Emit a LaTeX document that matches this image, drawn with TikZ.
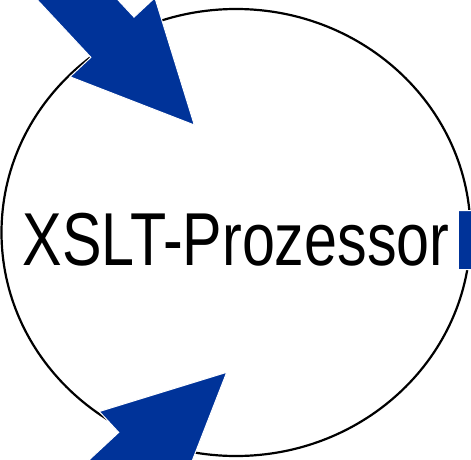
\documentclass[tikz,border=0pt]{standalone}
\usepackage{fontspec}
\usepackage{graphicx}
\setmainfont{Liberation Sans}
\usetikzlibrary{shapes.geometric}
\definecolor{pfeilblau}{RGB}{0,51,153}
\newcommand{\blockpfeil}[4]{%
  \fill[pfeil,shift={(#1,#2)},rotate=#3] (0,0) -- (-120,58) -- (-120,29.5) -- (-#4,29.5)
    -- (-#4,-29.5) -- (-120,-29.5) -- (-120,-58) -- cycle;}
\begin{document}
\begin{tikzpicture}[x=1pt,y=-1pt,
  pfeil/.style={fill=pfeilblau,draw=white,line width=1pt},
  kreis/.style={ellipse,draw=black,line width=2.2pt,minimum width=469pt,minimum height=447pt,inner sep=0pt}]
  \useasboundingbox (0,0) rectangle (471,460);
  \clip (0,0) rectangle (471,460);
  \node[kreis] (prozessor) at (236,232.5) {};
  \node[anchor=base,inner sep=0pt] (titel) at (236,265)
    {\fontsize{75}{80}\selectfont\scalebox{0.79}[1]{XSLT-Prozessor}};
  \blockpfeil{194.3}{125}{-47}{300}
  \blockpfeil{226.7}{372.3}{42.9}{300}
  \blockpfeil{700}{240}{0}{241.7}
\end{tikzpicture}
\end{document}
